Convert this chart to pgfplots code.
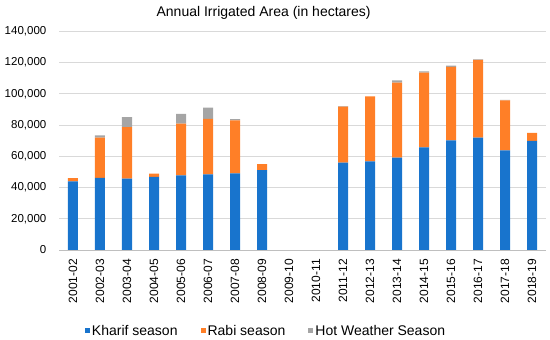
\documentclass[border=0pt]{standalone}
\usepackage{pgfplots}
\pgfplotsset{compat=1.18}
\usepackage{pgfplotstable}
\usepackage{fontspec}
\setmainfont{Liberation Sans}
\definecolor{kblue}{RGB}{24,116,205}
\definecolor{rorange}{RGB}{255,127,39}
\definecolor{hgray}{RGB}{165,165,165}
\definecolor{gridc}{RGB}{217,217,217}
\definecolor{axc}{RGB}{191,191,191}

\pgfplotstableread{
x kharif rabi hot
0 44000 2000 0
1 46100 25900 1400
2 45700 33000 6400
3 46750 2150 0
4 47800 33100 6200
5 48450 35450 7250
6 49100 33900 700
7 51200 3850 0
10 55950 35850 300
11 56800 41600 0
12 59150 48000 1500
13 65750 47800 850
14 70200 46950 900
15 71950 49700 450
16 63800 32000 300
17 69800 5100 0
}\datatable

\begin{document}
\begin{tikzpicture}
\useasboundingbox (0pt,0pt) rectangle (550pt,340pt);
\begin{axis}[
  at={(59.5pt,90pt)}, anchor=south west,
  scale only axis,
  width=486pt, height=218.7pt,
  ybar stacked,
  bar width=10pt,
  xmin=-0.5, xmax=17.5,
  ymin=0, ymax=140000,
  ytick={0,20000,...,140000},
  scaled y ticks=false,
  yticklabel={\pgfmathprintnumber[fixed, precision=0, 1000 sep={,}, assume math mode=true]{\tick}},
  xtick={0,...,17},
  xticklabels={2001-02,2002-03,2003-04,2004-05,2005-06,2006-07,2007-08,2008-09,2009-10,2010-11,2011-12,2012-13,2013-14,2014-15,2015-16,2016-17,2017-18,2018-19},
  xticklabel style={yshift=-9pt, rotate=90, anchor=east, font=\fontsize{12}{14}\selectfont, inner sep=0pt},
  yticklabel style={font=\fontsize{11.5}{14}\selectfont, inner sep=0pt, xshift=-13pt},
  major tick length=0pt,
  ymajorgrids,
  grid style={gridc, line width=0.8pt},
  axis x line*=bottom,
  axis y line*=left,
  y axis line style={draw=none},
  x axis line style={axc, line width=0.8pt, -},
  title={Annual Irrigated Area (in hectares)},
  title style={at={(axis description cs:0.42,1.056)}, anchor=center, yshift=0pt, font=\fontsize{14}{16}\selectfont, inner sep=0pt},
  legend columns=3,
  legend style={at={(axis description cs:0.425,-0.369)}, anchor=center, draw=none, fill=none,
    font=\fontsize{14}{16}\selectfont,
    /tikz/every even column/.append style={column sep=21pt}},
  legend image code/.code={\fill[#1] (0pt,-2.5pt) rectangle (5pt,2.5pt);},
]
\addplot[fill=kblue, draw=none] table[x=x, y=kharif] {\datatable};
\addplot[fill=rorange, draw=none] table[x=x, y=rabi] {\datatable};
\addplot[fill=hgray, draw=none] table[x=x, y=hot] {\datatable};
\legend{Kharif season, Rabi season, Hot Weather Season}
\end{axis}
\end{tikzpicture}
\end{document}
